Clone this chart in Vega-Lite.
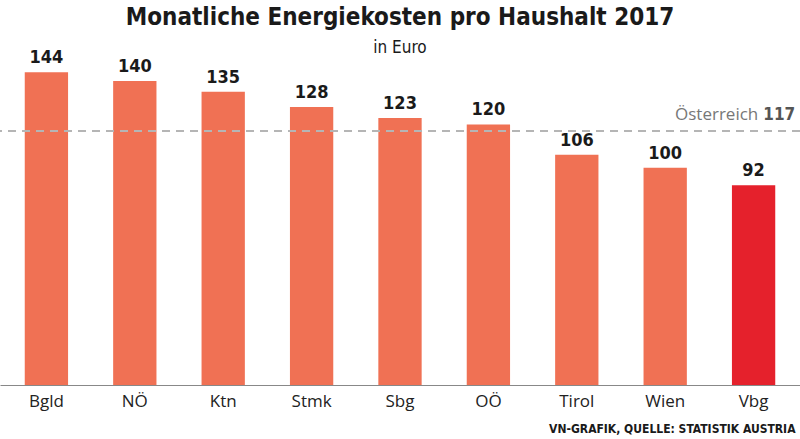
{
  "$schema": "https://vega.github.io/schema/vega-lite/v6.json",
  "width": 800,
  "height": 329,
  "autosize": {"type": "none"},
  "padding": {"top": 56, "left": 0, "right": 0, "bottom": 54},
  "background": "white",
  "config": {"view": {"stroke": null}},
  "title": {
    "text": "Monatliche Energiekosten pro Haushalt 2017",
    "subtitle": "in Euro",
    "anchor": "middle",
    "frame": "group",
    "offset": -7,
    "font": "DejaVu Sans Condensed, sans-serif",
    "fontSize": 24,
    "fontWeight": "bold",
    "color": "#1a1a1a",
    "subtitleFont": "DejaVu Sans Condensed, sans-serif",
    "subtitleFontSize": 17,
    "subtitleColor": "#1a1a1a",
    "subtitlePadding": 10
  },
  "data": {
    "values": [
      {"region": "Bgld", "value": 144},
      {"region": "NÖ", "value": 140},
      {"region": "Ktn", "value": 135},
      {"region": "Stmk", "value": 128},
      {"region": "Sbg", "value": 123},
      {"region": "OÖ", "value": 120},
      {"region": "Tirol", "value": 106},
      {"region": "Wien", "value": 100},
      {"region": "Vbg", "value": 92}
    ]
  },
  "encoding": {
    "x": {
      "field": "region",
      "type": "nominal",
      "sort": null,
      "scale": {"paddingInner": 0.51, "paddingOuter": 0.28},
      "axis": {
        "title": "VN-GRAFIK, QUELLE: STATISTIK AUSTRIA",
        "titleAnchor": "end",
        "titleAlign": "right",
        "titleX": 795,
        "titleFont": "DejaVu Sans Condensed, sans-serif",
        "titleFontSize": 12,
        "titleFontWeight": "bold",
        "titleColor": "#1a1a1a",
        "titlePadding": 14,
        "labelAngle": 0,
        "labelFont": "Open Sans",
        "labelFontSize": 17,
        "labelColor": "#222222",
        "labelPadding": 8,
        "ticks": false,
        "domainColor": "#888888",
        "domainWidth": 1.2
      }
    },
    "y": {
      "type": "quantitative",
      "scale": {"domain": [0, 151.5], "nice": false, "zero": true},
      "axis": null
    }
  },
  "layer": [
    {
      "mark": {"type": "bar"},
      "encoding": {
        "y": {"field": "value", "type": "quantitative"},
        "color": {
          "condition": {"test": "datum.region === 'Vbg'", "value": "#E5212C"},
          "value": "#F07154"
        }
      }
    },
    {
      "mark": {
        "type": "text",
        "baseline": "bottom",
        "dy": -5,
        "font": "DejaVu Sans Condensed, sans-serif",
        "fontSize": 18,
        "fontWeight": "bold",
        "color": "#1a1a1a"
      },
      "encoding": {
        "y": {"field": "value", "type": "quantitative"},
        "text": {"field": "value", "type": "quantitative"}
      }
    },
    {
      "data": {"values": [{"avg": 117}]},
      "mark": {"type": "rule", "color": "#b5b5b5", "strokeDash": [8, 6], "size": 2},
      "encoding": {
        "x": null,
        "y": {"field": "avg", "type": "quantitative"}
      }
    },
    {
      "data": {"values": [{"avg": 117, "label": "117", "region": "Vbg"}]},
      "mark": {
        "type": "text",
        "align": "right",
        "baseline": "bottom",
        "dy": -7,
        "dx": 20,
        "font": "DejaVu Sans Condensed, sans-serif",
        "fontSize": 17,
        "fontWeight": "bold",
        "color": "#555555"
      },
      "encoding": {
        "x": {"field": "region", "type": "nominal", "sort": null, "bandPosition": 1},
        "y": {"field": "avg", "type": "quantitative"},
        "text": {"field": "label"}
      }
    },
    {
      "data": {"values": [{"avg": 117, "label": "Österreich", "region": "Vbg"}]},
      "mark": {
        "type": "text",
        "align": "right",
        "baseline": "bottom",
        "dy": -7,
        "dx": -17,
        "font": "Open Sans",
        "fontSize": 17,
        "color": "#777777"
      },
      "encoding": {
        "x": {"field": "region", "type": "nominal", "sort": null, "bandPosition": 1},
        "y": {"field": "avg", "type": "quantitative"},
        "text": {"field": "label"}
      }
    }
  ]
}
